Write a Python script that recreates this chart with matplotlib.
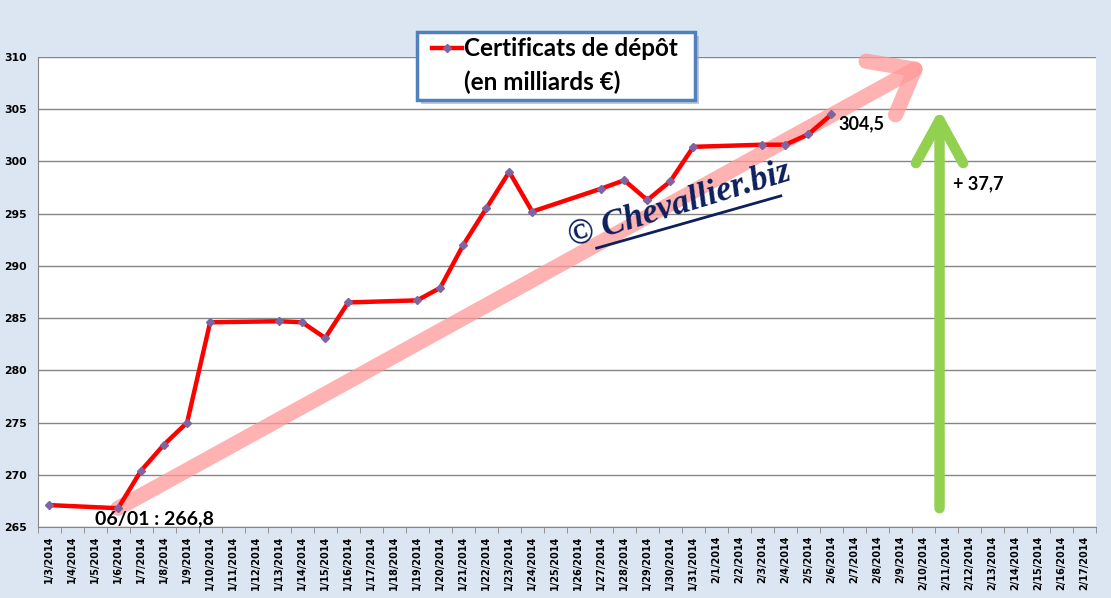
import matplotlib.pyplot as plt
from matplotlib.lines import Line2D
from matplotlib.patches import FancyBboxPatch

# categories on the x axis (every day from 1/3 to 2/17)
days = ["1/%d/2014" % d for d in range(3, 32)] + ["2/%d/2014" % d for d in range(1, 18)]

# dates with a value, and the values (billions EUR)
dates = ["1/3/2014", "1/6/2014", "1/7/2014", "1/8/2014", "1/9/2014", "1/10/2014",
         "1/13/2014", "1/14/2014", "1/15/2014", "1/16/2014", "1/19/2014", "1/20/2014",
         "1/21/2014", "1/22/2014", "1/23/2014", "1/24/2014", "1/27/2014", "1/28/2014",
         "1/29/2014", "1/30/2014", "1/31/2014", "2/3/2014", "2/4/2014", "2/5/2014",
         "2/6/2014"]
values = [267.1, 266.8, 270.4, 272.9, 275.0, 284.6,
          284.7, 284.6, 283.1, 286.5, 286.7, 287.9,
          292.0, 295.5, 299.0, 295.2, 297.4, 298.2,
          296.3, 298.1, 301.4, 301.6, 301.6, 302.6,
          304.5]

x = [days.index(d) for d in dates]
start_val = values[1]
end_val = values[-1]

bg = "#DCE6F2"
fig = plt.figure(figsize=(11.11, 5.98), dpi=100, facecolor=bg)
ax = fig.add_axes([0.0338, 0.1187, 0.9527, 0.786])
ax.set_facecolor("white")

ax.set_xlim(-0.5, len(days) - 0.5)
ax.set_ylim(265, 310)
ax.set_yticks(range(265, 311, 5))
ax.grid(axis="y", color="#868686", lw=1)
ax.set_axisbelow(True)
for s in ["top", "right"]:
    ax.spines[s].set_visible(False)
for s in ["left", "bottom"]:
    ax.spines[s].set_color("#868686")

ax.set_xticks(range(len(days)))
ax.set_xticklabels(days, rotation=90, fontsize=7, fontweight="bold")
ax.set_xticks([i - 0.5 for i in range(len(days) + 1)], minor=True)
ax.tick_params(axis="x", which="major", length=0, pad=6)
ax.tick_params(axis="x", which="minor", length=4, color="#868686")
ax.tick_params(axis="y", length=0, pad=8, labelsize=7.8)
for lab in ax.get_yticklabels():
    lab.set_fontweight("bold")

# pink trend arrow
ax.annotate("", xy=(38.1, 309.4), xytext=(x[1], start_val),
            arrowprops=dict(arrowstyle="->,head_length=1.4,head_width=1.1",
                            color="#FF9999", alpha=0.75, lw=11,
                            shrinkA=0, shrinkB=0, mutation_scale=20),
            zorder=2)

# green rise arrow
ax.annotate("", xy=(38.7, end_val + 0.5), xytext=(38.7, start_val),
            arrowprops=dict(arrowstyle="->,head_length=1.55,head_width=0.85",
                            color="#92D050", lw=7.5,
                            shrinkA=0, shrinkB=0, mutation_scale=20),
            zorder=2)

# watermark
ax.text(27.4, 295.8, "© Chevallier.biz", rotation=17, fontsize=25,
        family="Liberation Serif", style="italic", fontweight="bold",
        color="#0D1F5C", ha="center", va="center", zorder=3)
ax.plot([23.8, 31.8], [291.7, 296.7], color="#0D1F5C", lw=2, zorder=3)

# data line
ax.plot(x, values, color="#FF0000", lw=3.2, marker="D", markersize=4.5,
        markerfacecolor="#8064A2", markeredgecolor="#8064A2", zorder=4)

ax.text(x[1] - 1.0, start_val - 1.0, "06/01 : 266,8", fontsize=14,
        family="Lato", fontweight="bold", ha="left", va="center", zorder=5)
ax.text(x[-1] + 0.3, end_val - 0.9, "304,5", fontsize=13,
        family="Lato", fontweight="bold", ha="left", va="center", zorder=5)
ax.text(39.3, 297.9, "+ " + ("%.1f" % (end_val - start_val)).replace(".", ","),
        fontsize=13, family="Lato", fontweight="bold", ha="left", va="center", zorder=5)

# legend box
W, H = 1111.0, 598.0
box = FancyBboxPatch((417 / W, 1 - 100 / H), 278 / W, 68 / H,
                     boxstyle="square,pad=0", transform=fig.transFigure,
                     facecolor="white", edgecolor="#4F81BD", lw=2.5,
                     zorder=10)
shadow = FancyBboxPatch((421 / W, 1 - 104 / H), 278 / W, 68 / H,
                        boxstyle="square,pad=0", transform=fig.transFigure,
                        facecolor="#9AA6B8", edgecolor="none", alpha=0.6,
                        zorder=9)
fig.add_artist(shadow)
fig.add_artist(box)
fig.add_artist(Line2D([432 / W, 462 / W], [1 - 48 / H, 1 - 48 / H],
                      transform=fig.transFigure, color="#FF0000", lw=3.2, zorder=11))
fig.add_artist(Line2D([447 / W], [1 - 48 / H], transform=fig.transFigure,
                      marker="D", markersize=4.5, color="#8064A2", zorder=12))
fig.text(464 / W, 1 - 48 / H, "Certificats de dépôt", fontsize=17.5, family="Lato",
         fontweight="bold", ha="left", va="center", zorder=12)
fig.text(464 / W, 1 - 82 / H, "(en milliards €)", fontsize=17.5, family="Lato",
         fontweight="bold", ha="left", va="center", zorder=12)

fig.savefig("out.png", dpi=100, facecolor=bg)
